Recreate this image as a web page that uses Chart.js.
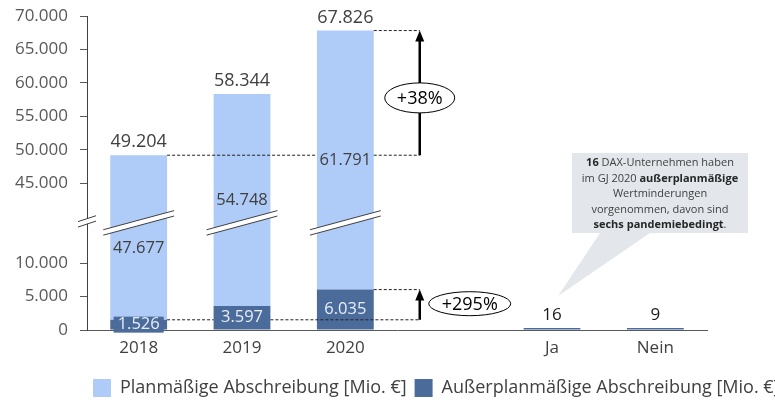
<!DOCTYPE html>
<html lang="de">
<head>
    <meta charset="UTF-8">
    <meta name="viewport" content="width=device-width, initial-scale=1.0">
    <title>Abschreibungen DAX-Unternehmen</title>
    <style>
        body {
            margin: 0;
            padding: 0;
            background-color: #ffffff;
            overflow: hidden;
        }
        .wrap {
            position: relative;
            width: 775px;
            height: 401px;
        }
    </style>
</head>
<body>
    <div class="wrap">
        <canvas id="chart"></canvas>
    </div>

    <script src="https://cdn.jsdelivr.net/npm/chart.js"></script>
    <script>
        // Data
        const categories = ['2018', '2019', '2020', '', 'Ja', 'Nein'];
        const planValues = [47677, 54748, 61791, null, null, null];
        const ausserValues = [1526, 3597, 6035, null, 16, 9];
        const totals = [49204, 58344, 67826, null, null, null];
        const yTicks = [0, 5000, 10000, 45000, 50000, 55000, 60000, 65000, 70000];
        const seriesNames = ['Planmäßige Abschreibung [Mio. €]', 'Außerplanmäßige Abschreibung [Mio. €]'];
        const calloutLines = [
            [['16', true], [' DAX-Unternehmen haben', false]],
            [['im GJ 2020 ', false], ['außerplanmäßige', true]],
            [['Wertminderungen', false]],
            [['vorgenommen, davon sind', false]],
            [['sechs pandemiebedingt', true], ['.', false]]
        ];

        // axis break: values between these two are cut out
        const breakFrom = 16000;
        const breakTo = 39100;

        const FONT = "'Open Sans', 'Noto Sans', sans-serif";
        const lightBlue = '#AFCBF7';
        const darkBlue = '#4B6B9B';

        const fmt = v => String(v).replace(/\B(?=(\d{3})+(?!\d))/g, '.');

        function squeeze(v) {
            if (v <= breakFrom) return v;
            if (v >= breakTo) return v - (breakTo - breakFrom);
            return breakFrom;
        }
        function unsqueeze(c) {
            return c <= breakFrom ? c : c + (breakTo - breakFrom);
        }

        // linear scale with a cut-out section
        class BrokenScale extends Chart.LinearScale {
            getPixelForValue(value) {
                if (value === null || value === undefined || isNaN(value)) return NaN;
                const a = squeeze(this.min), b = squeeze(this.max);
                return this.getPixelForDecimal((squeeze(value) - a) / (b - a));
            }
            getValueForPixel(pixel) {
                const a = squeeze(this.min), b = squeeze(this.max);
                return unsqueeze(a + this.getDecimalForPixel(pixel) * (b - a));
            }
        }
        BrokenScale.id = 'broken';
        BrokenScale.defaults = Chart.LinearScale.defaults;
        Chart.register(BrokenScale);

        function dashed(ctx, x1, x2, y) {
            ctx.save();
            ctx.strokeStyle = '#222';
            ctx.lineWidth = 1;
            ctx.setLineDash([3, 2]);
            ctx.beginPath();
            ctx.moveTo(x1, y);
            ctx.lineTo(x2, y);
            ctx.stroke();
            ctx.restore();
        }

        function arrowUp(ctx, x, yFrom, yTo) {
            ctx.save();
            ctx.strokeStyle = '#000';
            ctx.fillStyle = '#000';
            ctx.lineWidth = 2.5;
            ctx.beginPath();
            ctx.moveTo(x, yFrom);
            ctx.lineTo(x, yTo + 8);
            ctx.stroke();
            ctx.beginPath();
            ctx.moveTo(x, yTo);
            ctx.lineTo(x - 4.5, yTo + 11);
            ctx.lineTo(x + 4.5, yTo + 11);
            ctx.closePath();
            ctx.fill();
            ctx.restore();
        }

        function bubble(ctx, x, y, rx, ry, text) {
            ctx.save();
            ctx.beginPath();
            ctx.ellipse(x, y, rx, ry, 0, 0, Math.PI * 2);
            ctx.fillStyle = '#fff';
            ctx.fill();
            ctx.strokeStyle = '#000';
            ctx.lineWidth = 1;
            ctx.stroke();
            ctx.fillStyle = '#000';
            ctx.font = '18px ' + FONT;
            ctx.textAlign = 'center';
            ctx.textBaseline = 'middle';
            ctx.fillText(text, x, y + 1);
            ctx.restore();
        }

        function breakMark(ctx, cx, cy, half, slope) {
            const g = 2.7;
            ctx.save();
            ctx.beginPath();
            ctx.moveTo(cx - half, cy - g + slope * half);
            ctx.lineTo(cx + half, cy - g - slope * half);
            ctx.lineTo(cx + half, cy + g - slope * half);
            ctx.lineTo(cx - half, cy + g + slope * half);
            ctx.closePath();
            ctx.fillStyle = '#fff';
            ctx.fill();
            ctx.strokeStyle = '#404040';
            ctx.lineWidth = 1;
            ctx.beginPath();
            ctx.moveTo(cx - half, cy - g + slope * half);
            ctx.lineTo(cx + half, cy - g - slope * half);
            ctx.moveTo(cx - half, cy + g + slope * half);
            ctx.lineTo(cx + half, cy + g - slope * half);
            ctx.stroke();
            ctx.restore();
        }

        function label(ctx, text, x, y, size, color, bg) {
            ctx.save();
            ctx.font = size + 'px ' + FONT;
            ctx.textAlign = 'center';
            ctx.textBaseline = 'middle';
            if (bg) {
                const w = ctx.measureText(text).width + 8;
                ctx.fillStyle = bg;
                ctx.fillRect(x - w / 2, y - 8, w, 16);
            }
            ctx.fillStyle = color;
            ctx.fillText(text, x, y);
            ctx.restore();
        }

        const annotations = {
            id: 'annotations',
            afterLayout(chart) {
                // legend starts under the first bar and runs off the right edge
                const lg = chart.legend;
                const dx = 85 - lg.left;
                lg.left += dx;
                lg.right += dx;
                lg.top += 6;
                lg.bottom += 6;
            },
            afterDatasetsDraw(chart) {
                const ctx = chart.ctx;
                const ys = chart.scales.y;
                const dark = chart.getDatasetMeta(0).data;
                const plan = chart.getDatasetMeta(1).data;
                const yBreak = ys.getPixelForValue(breakFrom);
                const catW = chart.scales.x.width / categories.length;

                // break marks on axis and bars
                breakMark(ctx, chart.chartArea.left, yBreak - 1.5, 9, 0.33);
                for (let i = 0; i < 3; i++) {
                    breakMark(ctx, plan[i].x, yBreak, plan[i].width / 2 + 7, 0.27);
                }

                const right = i => plan[i].x + plan[i].width / 2;
                const left = i => plan[i].x - plan[i].width / 2;
                const arrowX = plan[2].x + catW * 0.72;

                // upper comparison (totals)
                const yT0 = ys.getPixelForValue(totals[0]);
                const yT2 = ys.getPixelForValue(totals[2]);
                dashed(ctx, right(0), left(2), yT0);
                dashed(ctx, right(2), arrowX, yT0);
                dashed(ctx, right(2), arrowX, yT2);
                arrowUp(ctx, arrowX, yT0, yT2);
                const upPct = Math.round((totals[2] / totals[0] - 1) * 100);
                bubble(ctx, arrowX, (yT0 + yT2) / 2 + 5, 35, 15, '+' + upPct + '%');

                // lower comparison (außerplanmäßig)
                const yA0 = ys.getPixelForValue(ausserValues[0]);
                const yA2 = ys.getPixelForValue(ausserValues[2]);
                dashed(ctx, right(0), left(1), yA0);
                dashed(ctx, right(1), arrowX, yA0);
                dashed(ctx, right(2), arrowX, yA2);
                arrowUp(ctx, arrowX, yA0, yA2);
                const lowPct = Math.round((ausserValues[2] / ausserValues[0] - 1) * 100);
                bubble(ctx, arrowX + 50, (yA0 + yA2) / 2 - 1, 41, 12, '+' + lowPct + '%');

                // value labels
                for (let i = 0; i < 3; i++) {
                    label(ctx, fmt(totals[i]), plan[i].x, plan[i].y - 13, 18, '#404040');
                    let yc = (plan[i].y + plan[i].base) / 2;
                    if (Math.abs(yc - yBreak) < 16) yc = yBreak + 25;
                    label(ctx, fmt(planValues[i]), plan[i].x, yc, 16.5, '#404040');
                    const yd = (dark[i].y + dark[i].base) / 2;
                    label(ctx, fmt(ausserValues[i]), dark[i].x, yd, 16.5, '#e8eef6', darkBlue);
                }
                for (let i = 4; i < 6; i++) {
                    label(ctx, fmt(ausserValues[i]), dark[i].x, dark[i].y - 13, 17, '#1a1a1a');
                }

                // callout
                const jx = dark[4].x;
                const top = chart.chartArea.top + 137;
                const bx1 = jx + 20, bx2 = jx + 196, by2 = top + 80;
                ctx.save();
                ctx.fillStyle = '#E3E7EB';
                ctx.fillRect(bx1, top, bx2 - bx1, by2 - top);
                ctx.beginPath();
                ctx.moveTo(jx + 48, by2);
                ctx.lineTo(jx + 98, by2);
                ctx.lineTo(jx + 6, dark[4].y - 32);
                ctx.closePath();
                ctx.fill();
                ctx.textBaseline = 'middle';
                ctx.textAlign = 'left';
                const cx = (bx1 + bx2) / 2;
                calloutLines.forEach((runs, li) => {
                    let w = 0;
                    runs.forEach(r => {
                        ctx.font = (r[1] ? 'bold ' : '') + '11px ' + FONT;
                        w += ctx.measureText(r[0]).width;
                    });
                    let x = cx - w / 2;
                    const y = top + 10 + li * 15.5;
                    runs.forEach(r => {
                        ctx.font = (r[1] ? 'bold ' : '') + '11px ' + FONT;
                        ctx.fillStyle = r[1] ? '#262626' : '#404040';
                        ctx.fillText(r[0], x, y);
                        x += ctx.measureText(r[0]).width;
                    });
                });
                ctx.restore();
            }
        };

        const ctx = document.getElementById('chart').getContext('2d');
        const chart = new Chart(ctx, {
            type: 'bar',
            data: {
                labels: categories,
                datasets: [
                    {
                        label: seriesNames[1],
                        data: ausserValues,
                        backgroundColor: darkBlue,
                        minBarLength: 2
                    },
                    {
                        label: seriesNames[0],
                        data: planValues,
                        backgroundColor: lightBlue
                    }
                ]
            },
            options: {
                responsive: true,
                maintainAspectRatio: false,
                animation: false,
                categoryPercentage: 1,
                barPercentage: 0.55,
                layout: { padding: { top: 16, right: 68, left: 0, bottom: 0 } },
                scales: {
                    x: {
                        stacked: true,
                        grid: { display: false, drawTicks: false },
                        border: { display: true, color: '#595959', width: 1 },
                        ticks: { color: '#404040', font: { family: FONT, size: 17 }, padding: 8 },
                        afterFit: s => { s.height = 35; }
                    },
                    y: {
                        type: 'broken',
                        stacked: true,
                        min: 0,
                        max: 70000,
                        afterBuildTicks: s => { s.ticks = yTicks.map(v => ({ value: v })); },
                        grid: { display: true, drawOnChartArea: false, drawTicks: true, tickLength: 7, color: '#595959' },
                        border: { display: true, color: '#404040', width: 1 },
                        ticks: {
                            color: '#595959',
                            font: { family: FONT, size: 17 },
                            padding: 12,
                            callback: v => fmt(v)
                        },
                        afterFit: s => {
                            s.width = 87;
                            s.paddingTop = 0;
                            s.paddingBottom = 0;
                        }
                    }
                },
                plugins: {
                    legend: {
                        position: 'bottom',
                        align: 'start',
                        reverse: true,
                        labels: {
                            boxWidth: 18,
                            boxHeight: 18,
                            padding: 8,
                            color: '#404040',
                            font: { family: FONT, size: 18 }
                        }
                    },
                    tooltip: { enabled: false }
                }
            },
            plugins: [annotations]
        });
    </script>
</body>
</html>
